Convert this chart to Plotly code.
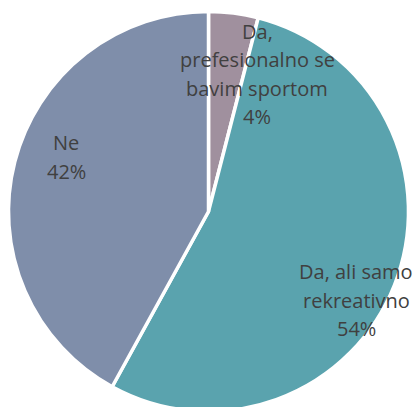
import plotly.graph_objects as go

labels = ["Da,\nprefesionalno se\nbavim sportom", "Da, ali samo\nrekreativno", "Ne"]
values = [4, 54, 42]
colors = ["#a0909e", "#5aa3ae", "#7f8eaa"]
# label block centres in pixels (x from left, y from top)
label_pos = [(257, 74), (356, 300), (66, 157)]

W, H = 414, 423
LINE = 28.3

fig = go.Figure(go.Pie(
    labels=labels, values=values, sort=False, direction="clockwise", rotation=0,
    marker=dict(colors=colors, line=dict(color="white", width=3.5)),
    textinfo="none", hoverinfo="label+percent", showlegend=False,
    domain=dict(x=[8.5 / W, 408.5 / W], y=[0, 1]),
))

annotations = []
total = sum(values)
for lab, v, (cx, cy) in zip(labels, values, label_pos):
    lines = lab.split("\n") + [f"{round(100 * v / total)}%"]
    n = len(lines)
    for i, ln in enumerate(lines):
        y = cy + (i - (n - 1) / 2) * LINE
        annotations.append(dict(
            x=cx / W, y=1 - y / H, xref="paper", yref="paper", text=ln,
            showarrow=False, xanchor="center", yanchor="middle",
            font=dict(family="Open Sans", size=20, color="#404040"),
        ))

fig.update_layout(
    width=W, height=H, margin=dict(l=0, r=0, t=0, b=0),
    paper_bgcolor="white", plot_bgcolor="white", annotations=annotations,
)

fig.write_html(
    "out.html",
    config={"displayModeBar": False},
    post_script="document.body.style.margin='0';document.body.style.overflow='hidden';document.documentElement.style.overflow='hidden';",
)
